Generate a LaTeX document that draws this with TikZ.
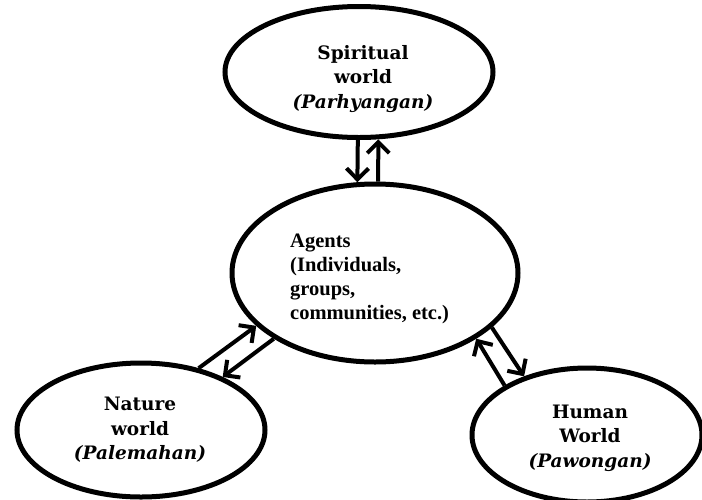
\documentclass[tikz,border=0pt]{standalone}
\usepackage{fontspec}
\setmainfont{Liberation Serif}
\newfontfamily\wideserif{DejaVu Serif}
\usetikzlibrary{shapes.geometric,arrows.meta}
\tikzset{
  ring/.style={ellipse, draw=black, line width=5pt, inner sep=0pt},
  worldtext/.style={align=center, inner sep=0pt,
    font=\wideserif\bfseries\fontsize{18.5}{24.5}\selectfont},
  agenttext/.style={align=left, inner sep=0pt,
    font=\bfseries\fontsize{20.5}{24}\selectfont},
  link/.style={line width=4pt, -{Straight Barb[length=11pt,width=22pt,line width=4pt]}}
}
\begin{document}
\begin{tikzpicture}[x=1pt,y=-1pt]
\useasboundingbox (0,0) rectangle (702,499);
\node[ring, minimum width=268pt, minimum height=131pt] (sp) at (359,72) {};
\node[ring, minimum width=286pt, minimum height=178pt] (ag) at (375,273) {};
\node[ring, minimum width=248pt, minimum height=134pt] (na) at (141,430) {};
\node[ring, minimum width=230pt, minimum height=134pt] (hu) at (587,435) {};
\node[worldtext] (spt) at (363,79) {Spiritual\\world\\\textit{(Parhyangan)}};
\node[agenttext, anchor=west] (agt) at (290,279) {Agents\\(Individuals,\\groups,\\communities, etc.)};
\node[worldtext] (nat) at (140,430) {Nature\\world\\\textit{(Palemahan)}};
\node[worldtext] (hut) at (590,438) {Human\\World\\\textit{(Pawongan)}};
% spiritual <-> agents
\draw[link] (sp.-91.7) -- (ag.101.6);
\draw[link] (ag.88.7) -- (sp.-74.4);
% nature <-> agents
\draw[link] (na.47.5) -- (ag.-156);
\draw[link] (ag.-147) -- (na.33);
% human <-> agents
\draw[link] (hu.149.7) -- (ag.-33.6);
\draw[link] (ag.-25.6) -- (hu.137.4);
\end{tikzpicture}
\end{document}
